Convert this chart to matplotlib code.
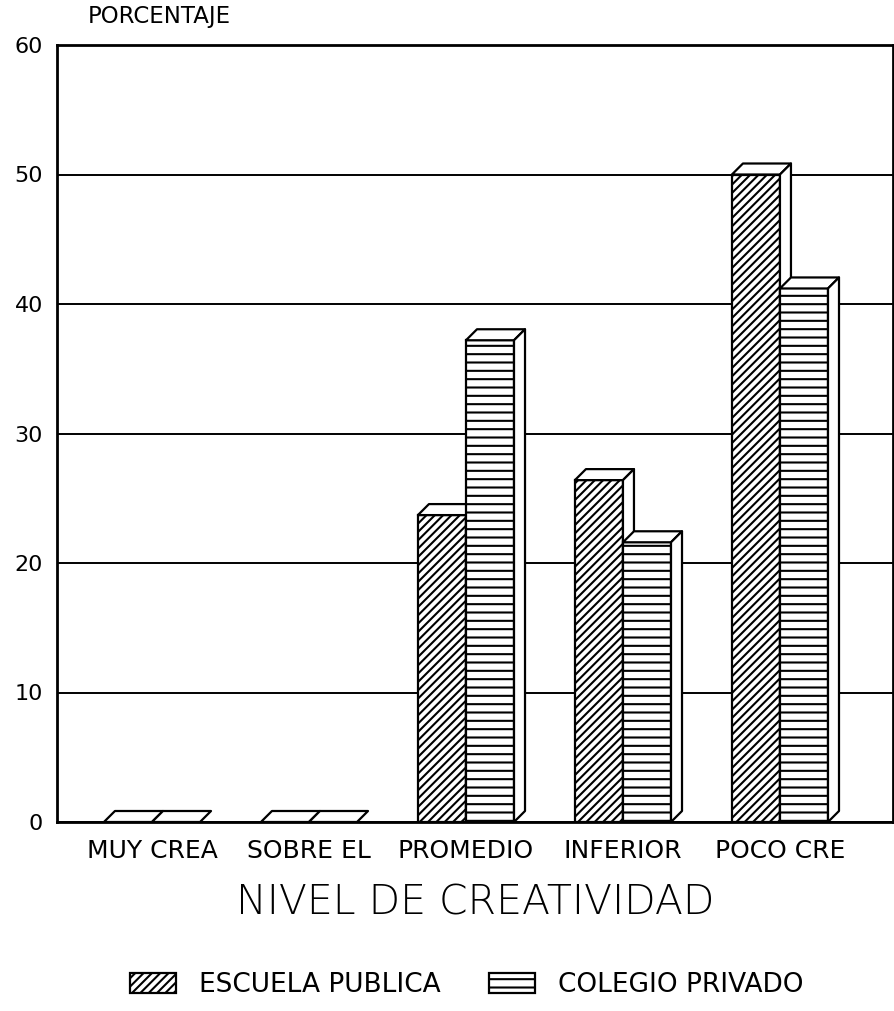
import numpy as np
import matplotlib
matplotlib.use("Agg")
import matplotlib.pyplot as plt
from matplotlib.patches import Polygon

categories = ["MUY CREA", "SOBRE EL", "PROMEDIO", "INFERIOR", "POCO CRE"]
publica = [0.0, 0.0, 23.7, 26.4, 50.0]
privado = [0.0, 0.0, 37.2, 21.6, 41.2]
yticks = [0, 10, 20, 30, 40, 50, 60]
series_names = ["ESCUELA PUBLICA", "COLEGIO PRIVADO"]

plt.rcParams['font.family'] = ['DejaVu Sans']
plt.rcParams['hatch.linewidth'] = 1.5

W, H = 895, 1011
fig = plt.figure(figsize=(W / 100, H / 100), dpi=100)
ax = fig.add_axes([57 / W, 189 / H, 836 / W, 777 / H])
ax.set_ylim(0, 60)
ax.set_xlim(-0.605, 4.72)

pos = np.arange(len(categories))
w = 0.306
dx = 11 / 157.0
dy = 11 / 12.95

def draw_3d(x0, vals, hatch, z):
    bars = ax.bar(x0, vals, width=w, align='edge', facecolor='white',
                  edgecolor='black', hatch=hatch, linewidth=1.6, zorder=z)
    for xl, v in zip(x0, vals):
        top = Polygon([(xl, v), (xl + w, v), (xl + w + dx, v + dy), (xl + dx, v + dy)],
                      closed=True, facecolor='white', edgecolor='black', linewidth=1.6,
                      zorder=z, joinstyle='round')
        ax.add_patch(top)
        if v > 0:
            side = Polygon([(xl + w, 0), (xl + w + dx, dy), (xl + w + dx, v + dy), (xl + w, v)],
                           closed=True, facecolor='white', edgecolor='black', linewidth=1.6,
                           zorder=z, joinstyle='round')
            ax.add_patch(side)
    return bars

b1 = draw_3d(pos - w, publica, '////', 3)
b2 = draw_3d(pos, privado, '--', 4)

ax.set_yticks(yticks)
ax.set_yticklabels([str(t) for t in yticks], fontsize=16)
ax.set_xticks(pos)
ax.set_xticklabels(categories, fontsize=18)
ax.tick_params(axis='both', length=0)
ax.tick_params(axis='y', pad=10)
ax.tick_params(axis='x', pad=12)
ax.grid(axis='y', color='black', linewidth=1.4, zorder=1)
ax.set_axisbelow(True)
for s in ax.spines.values():
    s.set_linewidth(2.0)
    s.set_color('black')

fig.text(88 / W, 1 - 17 / H, "PORCENTAJE", fontsize=16.5, ha='left', va='center')
fig.text(475 / W, 1 - 903 / H, "NIVEL DE CREATIVIDAD", fontsize=29.5, ha='center',
         va='center', fontweight='light')

fig.legend(handles=[b1, b2], labels=series_names, loc='center left',
           bbox_to_anchor=(130 / W, 1 - 985 / H), ncol=2, frameon=False,
           borderpad=0, borderaxespad=0,
           fontsize=19, handlelength=1.75, handleheight=0.8, handletextpad=0.85,
           columnspacing=1.85)

fig.savefig("out.png", dpi=100, facecolor='white')
